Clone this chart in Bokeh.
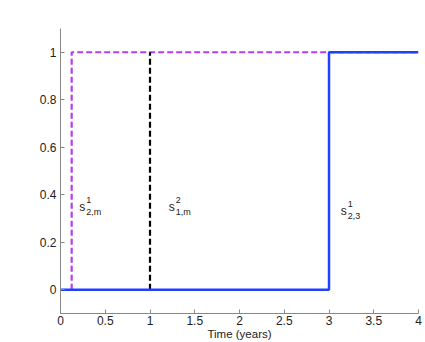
from bokeh.plotting import figure
from bokeh.models import Range1d, FixedTicker, ColumnDataSource
from bokeh.core.properties import value
from bokeh.embed import file_html
from bokeh.resources import INLINE

# data
blue_t = [0, 3, 3, 4]
blue_y = [0, 0, 1, 1]
purple_t = [0.125, 0.125, 4]
purple_y = [0, 1, 1]
black_t = [1, 1]
black_y = [0, 1]

label_x = [0.21, 1.21, 3.13]
label_y = [0.35, 0.35, 0.33]
label_sup = ["1", "2", "1"]
label_sub = ["2,m", "1,m", "2,3"]

x_ticks = [0, 0.5, 1, 1.5, 2, 2.5, 3, 3.5, 4]
y_ticks = [0, 0.2, 0.4, 0.6, 0.8, 1]

FONT = "Liberation Sans"

p = figure(width=425, height=342, output_backend="svg", toolbar_location=None,
           x_range=Range1d(0, 4), y_range=Range1d(-0.1, 1.1),
           min_border_left=60, min_border_right=7, min_border_top=28, min_border_bottom=29)
p.outline_line_color = None
p.xgrid.visible = False
p.ygrid.visible = False
p.background_fill_color = "white"

for ax in (p.xaxis[0], p.yaxis[0]):
    ax.axis_line_color = "#888888"
    ax.major_tick_line_color = "#888888"
    ax.minor_tick_line_color = None
    ax.major_tick_in = 4
    ax.major_tick_out = 0
    ax.major_label_text_font = FONT
    ax.major_label_text_font_size = "12px"
    ax.major_label_text_color = "#222222"
    ax.axis_label_text_font = FONT
    ax.axis_label_text_font_size = "11.5px"
    ax.axis_label_text_font_style = "normal"
    ax.axis_label_text_color = "#222222"

p.xaxis.ticker = FixedTicker(ticks=x_ticks)
p.yaxis.ticker = FixedTicker(ticks=y_ticks)
p.xaxis.axis_label = "Time (years)"
p.xaxis.major_label_standoff = 2
p.xaxis.axis_label_standoff = 0
p.yaxis.major_label_standoff = 4
p.xaxis.major_label_overrides = {0: "0", 1: "1", 2: "2", 3: "3", 4: "4"}
p.yaxis.major_label_overrides = {0: "0", 1: "1"}

p.line(purple_t, purple_y, line_color="#B43CF5", line_width=2.2, line_dash="6 3")
p.line(black_t, black_y, line_color="black", line_width=2.2, line_dash="6 3")
p.line(blue_t, blue_y, line_color="#2040FF", line_width=2.5)

src = ColumnDataSource(dict(x=label_x, y=label_y, sup=label_sup, sub=label_sub))
p.text(x="x", y="y", text=value("s"), source=src, text_font=value(FONT),
       text_font_size="12px", text_color="#222222", text_baseline="middle", text_align="left")
p.text(x="x", y="y", text="sup", source=src, text_font=value(FONT), x_offset=7, y_offset=-7,
       text_font_size="9px", text_color="#222222", text_baseline="middle", text_align="left")
p.text(x="x", y="y", text="sub", source=src, text_font=value(FONT), x_offset=7, y_offset=5,
       text_font_size="9px", text_color="#222222", text_baseline="middle", text_align="left")

open("out.html", "w").write(file_html(p, INLINE))
